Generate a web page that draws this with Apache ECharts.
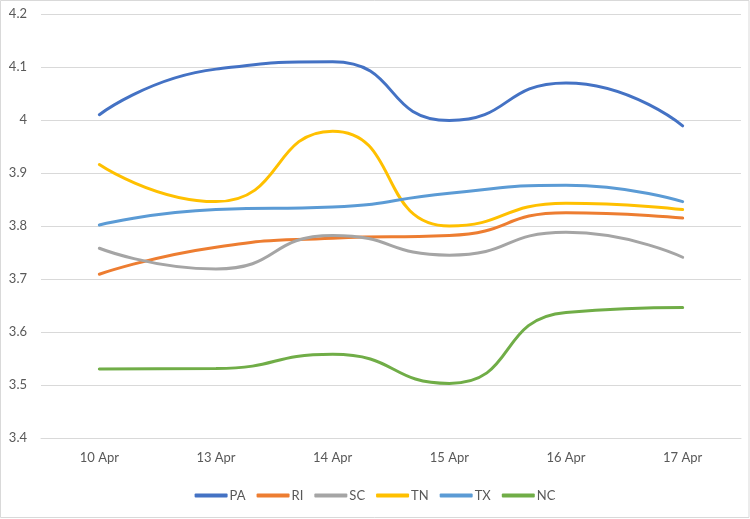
<!DOCTYPE html>
<html>
<head>
<meta charset="utf-8">
<script src="https://cdn.jsdelivr.net/npm/echarts@6/dist/echarts.min.js"></script>
<style>
html,body{margin:0;padding:0;background:#fff;}
#main{width:750px;height:519px;}
</style>
</head>
<body>
<div id="main"></div>
<script>
const categories = ['10 Apr', '13 Apr', '14 Apr', '15 Apr', '16 Apr', '17 Apr'];
const seriesNames = ['PA', 'RI', 'SC', 'TN', 'TX', 'NC'];
const PA = [4.01, 4.096, 4.11, 3.999, 4.07, 3.989];
const RI = [3.709, 3.76, 3.777, 3.782, 3.825, 3.815];
const SC = [3.758, 3.719, 3.782, 3.745, 3.788, 3.741];
const TN = [3.916, 3.846, 3.979, 3.80, 3.843, 3.831];
const TX = [3.802, 3.831, 3.836, 3.862, 3.877, 3.846];
const NC = [3.53, 3.531, 3.558, 3.503, 3.637, 3.646];
const yTicks = { min: 3.4, max: 4.2, interval: 0.1 };

const values = [PA, RI, SC, TN, TX, NC];
const colors = ['#4472C4', '#ED7D31', '#A5A5A5', '#FFC000', '#5B9BD5', '#70AD47'];
const font = 'Lato, "Open Sans", sans-serif';

const chart = echarts.init(document.getElementById('main'), null, { renderer: 'canvas' });
chart.setOption({
  animation: false,
  backgroundColor: '#fff',
  color: colors,
  textStyle: { fontFamily: font },
  graphic: [{
    type: 'rect',
    shape: { x: 0.5, y: 0.5, width: 748.5, height: 517 },
    style: { fill: 'none', stroke: '#D9D9D9', lineWidth: 1 },
    silent: true
  }],
  grid: { left: 41, right: 9, top: 14, bottom: 81, containLabel: false },
  legend: {
    bottom: 12,
    left: 'center',
    itemWidth: 33,
    itemHeight: 4,
    itemGap: 11,
    icon: 'roundRect',
    textStyle: { color: '#595959', fontSize: 13, fontFamily: font, padding: [0, 0, 0, -3] },
    data: seriesNames
  },
  xAxis: {
    type: 'category',
    data: categories,
    boundaryGap: true,
    axisLine: { show: true, lineStyle: { color: '#D9D9D9', width: 1 } },
    axisTick: { show: false },
    axisLabel: { color: '#595959', fontSize: 13, margin: 13, fontFamily: font }
  },
  yAxis: {
    type: 'value',
    min: yTicks.min,
    max: yTicks.max,
    interval: yTicks.interval,
    axisLine: { show: false },
    axisTick: { show: false },
    splitLine: { lineStyle: { color: '#D9D9D9', width: 1 } },
    axisLabel: {
      color: '#595959', fontSize: 13, margin: 14, fontFamily: font,
      formatter: v => String(Math.round(v * 10) / 10)
    }
  },
  series: seriesNames.map((n, i) => ({
    name: n,
    type: 'line',
    data: values[i],
    smooth: 0.55,
    symbol: 'none',
    lineStyle: { width: 3, color: colors[i], cap: 'round' },
    itemStyle: { color: colors[i] }
  }))
});
</script>
</body>
</html>
